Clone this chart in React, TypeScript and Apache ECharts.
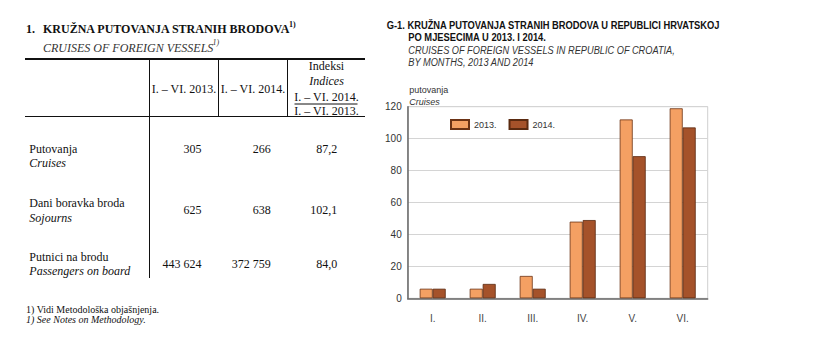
import React, { useEffect, useRef } from "react";
import * as echarts from "echarts";

const months = ["I.", "II.", "III.", "IV.", "V.", "VI."];
const cruises2013 = [6, 6, 14, 48, 112, 119];
const cruises2014 = [6, 9, 6, 49, 89, 107];
const seriesNames = ["2013.", "2014."];

const rowLabelsHr = ["Putovanja", "Dani boravka broda", "Putnici na brodu"];
const rowLabelsEn = ["Cruises", "Sojourns", "Passengers on board"];
const values2013 = ["305", "625", "443 624"];
const values2014 = ["266", "638", "372 759"];
const indexValues = ["87,2", "102,1", "84,0"];
const periodHeaders = ["I. – VI. 2013.", "I. – VI. 2014."];

const SERIF = "'Liberation Serif', 'Times New Roman', serif";
const SANS = "'Liberation Sans', Arial, sans-serif";

function txt(x: number, y: number, text: string, font: string, extra: any = {}) {
  return {
    type: "text",
    x,
    y,
    silent: true,
    style: {
      text,
      font,
      fill: extra.fill || "#111",
      textAlign: extra.align || "left",
      textVerticalAlign: "middle",
    },
    scaleX: extra.scaleX || 1,
    originX: extra.originX || 0,
  };
}

function hline(x1: number, x2: number, y: number, w: number, color = "#111") {
  return { type: "line", silent: true, shape: { x1, y1: y, x2, y2: y }, style: { stroke: color, lineWidth: w } };
}
function vline(x: number, y1: number, y2: number, w: number, color = "#111") {
  return { type: "line", silent: true, shape: { x1: x, y1, x2: x, y2 }, style: { stroke: color, lineWidth: w } };
}

export default function App() {
  const ref = useRef<HTMLDivElement>(null);
  useEffect(() => {
    if (!ref.current) return;
    const chart = echarts.init(ref.current, undefined, { renderer: "svg" });
    const rowY = [149.3, 210, 264.3];
    const rowHrY = [149.3, 203.3, 257.3];
    const rowEnY = [162.7, 217.7, 271];
    const graphics: any[] = [];
    // Table title
    graphics.push(txt(26, 28.7, "1.", `bold 12px ${SERIF}`));
    graphics.push(txt(43, 28.7, "KRUŽNA PUTOVANJA STRANIH BRODOVA", `bold 12px ${SERIF}`));
    graphics.push(txt(289, 24, "1)", `bold 8px ${SERIF}`));
    graphics.push(txt(43, 48.3, "CRUISES OF FOREIGN VESSELS", `italic 12px ${SERIF}`, { fill: "#333" }));
    graphics.push(txt(212.5, 42, "1)", `italic 8px ${SERIF}`, { fill: "#333" }));
    // Table lines
    graphics.push(hline(25, 365, 59, 2));
    graphics.push(hline(25, 365, 116.5, 1));
    graphics.push(vline(149.5, 59, 116.5, 1));
    graphics.push(vline(218.5, 59, 116.5, 1));
    graphics.push(vline(287.5, 59, 116.5, 1));
    graphics.push(vline(149.5, 116.5, 278, 1));
    // Header
    graphics.push(txt(184, 88.7, periodHeaders[0], `12px ${SERIF}`, { align: "center" }));
    graphics.push(txt(253, 88.7, periodHeaders[1], `12px ${SERIF}`, { align: "center" }));
    graphics.push(txt(326.5, 66, "Indeksi", `12px ${SERIF}`, { align: "center" }));
    graphics.push(txt(326.5, 81, "Indices", `italic 12px ${SERIF}`, { align: "center" }));
    graphics.push(txt(326.5, 96.5, periodHeaders[1], `12px ${SERIF}`, { align: "center" }));
    graphics.push(hline(294.5, 357.5, 104, 1));
    graphics.push(txt(326.5, 110.5, periodHeaders[0], `12px ${SERIF}`, { align: "center" }));
    // Rows
    rowLabelsHr.forEach((l, i) => {
      graphics.push(txt(29.3, rowHrY[i], l, `12px ${SERIF}`));
      graphics.push(txt(29.3, rowEnY[i], rowLabelsEn[i], `italic 12px ${SERIF}`));
      graphics.push(txt(201.5, rowY[i], values2013[i], `12px ${SERIF}`, { align: "right" }));
      graphics.push(txt(270.7, rowY[i], values2014[i], `12px ${SERIF}`, { align: "right" }));
      graphics.push(txt(337.3, rowY[i], indexValues[i], `12px ${SERIF}`, { align: "right" }));
    });
    // Footnote
    graphics.push(txt(26, 309.3, "1) Vidi Metodološka objašnjenja.", `10px ${SERIF}`));
    graphics.push(txt(26, 319, "1) See Notes on Methodology.", `italic 10px ${SERIF}`));
    // Chart titles
    graphics.push(txt(386.7, 25, "G-1. KRUŽNA PUTOVANJA STRANIH BRODOVA U REPUBLICI HRVATSKOJ", `bold 11px ${SANS}`, { scaleX: 0.85 }));
    graphics.push(txt(408.3, 37.7, "PO MJESECIMA U 2013. I 2014.", `bold 11px ${SANS}`, { scaleX: 0.85 }));
    graphics.push(txt(408.3, 50, "CRUISES OF FOREIGN VESSELS IN REPUBLIC OF CROATIA,", `italic 11px ${SANS}`, { scaleX: 0.84, fill: "#333" }));
    graphics.push(txt(408.3, 62.3, "BY MONTHS, 2013 AND 2014", `italic 11px ${SANS}`, { scaleX: 0.84, fill: "#333" }));
    graphics.push(txt(409.3, 90, "putovanja", `9px ${SANS}`, { fill: "#333" }));
    graphics.push(txt(409.3, 101.7, "Cruises", `italic 9px ${SANS}`, { fill: "#333" }));

    chart.setOption({
      animation: false,
      grid: {
        left: 407.7,
        right: 107.3,
        top: 106.7,
        bottom: 54.7,
        show: true,
        borderColor: "#cfcfcf",
        borderWidth: 1,
      },
      legend: {
        left: 450,
        top: 119,
        padding: 0,
        itemWidth: 18,
        itemHeight: 9,
        itemGap: 12,
        icon: "rect",
        textStyle: { fontFamily: SANS, fontSize: 9, color: "#333", padding: [0, 0, 0, 0] },
        data: seriesNames,
      },
      xAxis: {
        type: "category",
        data: months,
        axisLine: { lineStyle: { color: "#666", width: 1.5 } },
        axisTick: { show: false },
        axisLabel: { fontFamily: SANS, fontSize: 10, color: "#444", margin: 15 },
      },
      yAxis: {
        type: "value",
        min: 0,
        max: 120,
        interval: 20,
        axisLine: { show: true, lineStyle: { color: "#666", width: 1.5 } },
        axisTick: { show: false },
        splitLine: { lineStyle: { color: "#d4d4d4" } },
        axisLabel: { fontFamily: SANS, fontSize: 10, color: "#333", margin: 6 },
      },
      series: [
        {
          name: seriesNames[0],
          type: "bar",
          data: cruises2013,
          barWidth: 13,
          barGap: "0%",
          itemStyle: { color: "#F4A063", borderColor: "#6b3214", borderWidth: 0.8 },
        },
        {
          name: seriesNames[1],
          type: "bar",
          data: cruises2014,
          barWidth: 13,
          barGap: "0%",
          itemStyle: { color: "#A5522A", borderColor: "#5a2a10", borderWidth: 0.8 },
        },
      ],
      graphic: graphics,
    });
    return () => chart.dispose();
  }, []);
  return (
    <div style={{ position: "absolute", left: 0, top: 0, width: 815, height: 353, background: "#fff" }}>
      <div ref={ref} style={{ width: 815, height: 353 }} />
    </div>
  );
}
